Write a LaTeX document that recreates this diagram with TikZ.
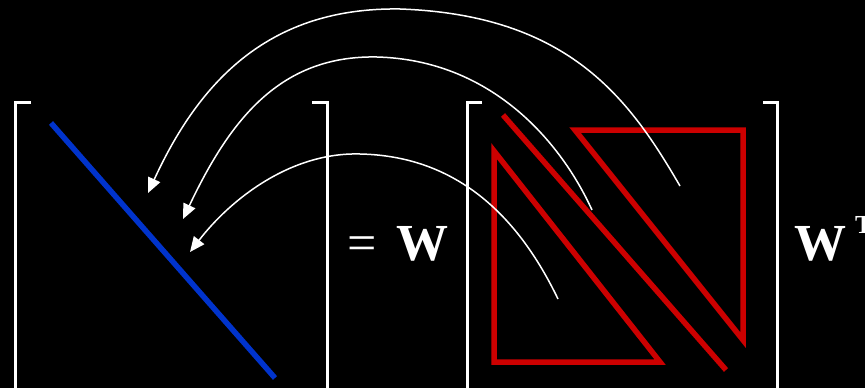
\documentclass[tikz,border=0pt]{standalone}
\usepackage{fontspec}
\setmainfont{Liberation Serif}
\usetikzlibrary{arrows.meta}
\definecolor{diagblue}{RGB}{0,51,204}
\definecolor{diagred}{RGB}{204,0,0}
\tikzset{
  bracket/.style={draw=white, line width=3pt, line join=miter},
  blueline/.style={draw=diagblue, line width=5.5pt},
  redline/.style={draw=diagred, line width=5.5pt, line join=miter, miter limit=20},
  curvearrow/.style={draw=white, line width=1.5pt, -{Triangle[length=15pt,width=13pt]}},
  bigtext/.style={text=white, inner sep=0pt, font=\fontsize{52}{60}\selectfont},
  suptext/.style={text=white, inner sep=0pt, font=\fontsize{26}{30}\selectfont\bfseries}
}
\begin{document}
\begin{tikzpicture}[x=1pt,y=-1pt]
\fill[black] (0,0) rectangle (865,388);
\useasboundingbox (0,0) rectangle (865,388);
\clip (0,0) rectangle (865,388);
% brackets
\draw[bracket] (31,102) -- (15,102) -- (15,389) -- (31,389);
\draw[bracket] (312,102) -- (327,102) -- (327,389) -- (312,389);
\draw[bracket] (482,102) -- (467,102) -- (467,389) -- (482,389);
\draw[bracket] (763,102) -- (777,102) -- (777,389) -- (763,389);
% blue diagonal
\draw[blueline] (51,123) -- (275,378);
% red shapes
\draw[redline] (494,151) -- (494,362) -- (660,362) -- cycle;
\draw[redline] (575,130) -- (743,130) -- (743,340) -- cycle;
\draw[redline] (503,115) -- (726,370);
% text
\node[bigtext, anchor=base] (eq) at (362,260) {=};
\node[bigtext, anchor=base] (w1) at (422,260) {\textbf{W}};
\node[bigtext, anchor=base] (w2) at (820,260) {\textbf{W}};
\node[suptext, anchor=base west] (t) at (855,233) {T};
% arrows
\coordinate (s1) at (680,186);
\coordinate (m1) at (400,9);
\coordinate (e1) at (148,193);
\coordinate (s2) at (592,210);
\coordinate (m2) at (377,57);
\coordinate (e2) at (183,219);
\coordinate (s3) at (558,299);
\coordinate (m3) at (360,154);
\coordinate (e3) at (190,252);
\draw[curvearrow] (s1) .. controls (630,100) and (570,15) .. (m1) .. controls (270,7) and (200,80) .. (e1);
\draw[curvearrow] (s2) .. controls (560,140) and (490,60) .. (m2) .. controls (280,55) and (230,120) .. (e2);
\draw[curvearrow] (s3) .. controls (520,220) and (460,156) .. (m3) .. controls (290,152) and (230,200) .. (e3);
\end{tikzpicture}
\end{document}
